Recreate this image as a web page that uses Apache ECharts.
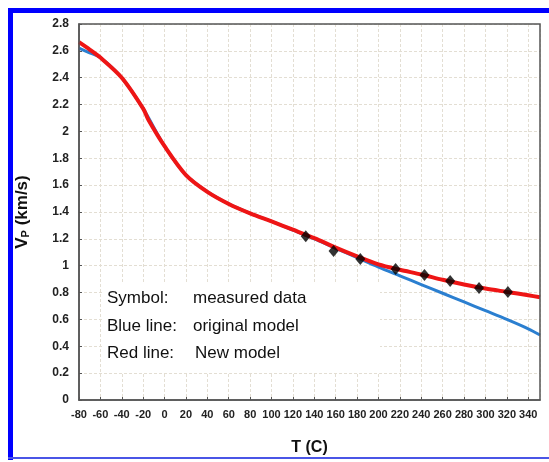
<!DOCTYPE html>
<html>
<head>
<meta charset="utf-8">
<script src="https://cdn.jsdelivr.net/npm/echarts@6/dist/echarts.min.js"></script>
<style>
  html, body { margin: 0; padding: 0; background: #fff; }
  #main { width: 549px; height: 462px; }
</style>
</head>
<body>
<div id="main"></div>
<script>
// temperatures (C) and velocities (km/s)
const redT = [-80, -70, -60, -40, -20, -15, 0, 20, 40, 60, 80, 100, 120, 140, 160, 180, 200, 220, 240, 260, 280, 300, 320, 340, 351];
const redV = [2.665, 2.61, 2.55, 2.40, 2.17, 2.085, 1.89, 1.675, 1.55, 1.46, 1.39, 1.33, 1.268, 1.205, 1.135, 1.07, 1.01, 0.97, 0.935, 0.895, 0.86, 0.83, 0.805, 0.78, 0.765];
const blueT = [-80, -70, -60, -40, -20, 0, 20, 40, 60, 80, 100, 120, 140, 160, 180, 200, 220, 240, 260, 280, 300, 320, 340, 351];
const blueV = [2.62, 2.585, 2.55, 2.40, 2.17, 1.89, 1.675, 1.55, 1.46, 1.39, 1.33, 1.265, 1.2, 1.13, 1.06, 0.99, 0.925, 0.86, 0.795, 0.73, 0.665, 0.6, 0.53, 0.484];
const measT = [132, 158, 183, 216, 243, 267, 294, 321];
const measV = [1.22, 1.11, 1.05, 0.975, 0.93, 0.886, 0.834, 0.804];
const legendLines = [
  ['Symbol:', 'measured data'],
  ['Blue line:', 'original model'],
  ['Red line:', 'New model']
];

function pairs(xs, ys) {
  let out = [];
  for (let i = 0; i < xs.length; i++) {
    out.push([xs[i], ys[i]]);
  }
  return out;
}

const chart = echarts.init(document.getElementById('main'));

const narrow = 'Liberation Sans Narrow, Arial Narrow, Liberation Sans, sans-serif';
const sans = 'Liberation Sans, Arial, sans-serif';

let legendGraphics = [
  { type: 'rect', z: 50, shape: { x: 103, y: 283, width: 277, height: 90 }, style: { fill: '#fff' } }
];
for (let i = 0; i < legendLines.length; i++) {
  legendGraphics.push({
    type: 'text', z: 51, left: 107, top: 290 + i * 27.5,
    style: { text: legendLines[i][0], font: '17px ' + sans, fill: '#111' }
  });
  legendGraphics.push({
    type: 'text', z: 51, left: 193 + (i === 2 ? 2 : 0), top: 290 + i * 27.5,
    style: { text: legendLines[i][1], font: '17px ' + sans, fill: '#111' }
  });
}

const frame = [
  { type: 'rect', z: 60, shape: { x: 8, y: 8, width: 541, height: 5 }, style: { fill: '#0000ff' } },
  { type: 'rect', z: 60, shape: { x: 8, y: 8, width: 5, height: 452 }, style: { fill: '#0000ff' } },
  { type: 'rect', z: 60, shape: { x: 8, y: 457, width: 541, height: 2 }, style: { fill: '#4a55e6' } }
];

const gridLine = { show: true, lineStyle: { color: '#e3ded3', type: [3, 2], width: 1 } };

chart.setOption({
  backgroundColor: '#fff',
  animation: false,
  grid: { left: 79, right: 9, top: 24, bottom: 62 },
  xAxis: {
    type: 'value',
    min: -80,
    max: 351,
    interval: 20,
    name: 'T (C)',
    nameLocation: 'middle',
    nameGap: 40,
    nameTextStyle: { fontFamily: sans, fontWeight: 'bold', fontSize: 16, color: '#111' },
    axisLine: { show: true, onZero: false, lineStyle: { color: '#555', width: 1.5 } },
    axisTick: { show: true, inside: true, length: 3, lineStyle: { color: '#555' } },
    axisLabel: { margin: 9, showMaxLabel: false, fontFamily: narrow, fontWeight: 'bold', fontSize: 11, color: '#222' },
    splitLine: gridLine
  },
  yAxis: {
    type: 'value',
    min: 0,
    max: 2.8,
    interval: 0.2,
    name: '{a|V}{b|P}{a| (km/s)}',
    nameLocation: 'middle',
    nameGap: 48,
    nameRotate: 90,
    nameTextStyle: {
      rich: {
        a: { fontFamily: sans, fontWeight: 'bold', fontSize: 17, color: '#111' },
        b: { fontFamily: sans, fontWeight: 'bold', fontSize: 11, color: '#111', verticalAlign: 'bottom', padding: [6, 0, 0, 0] }
      }
    },
    axisLine: { show: true, onZero: false, lineStyle: { color: '#555', width: 1.5 } },
    axisTick: { show: true, inside: true, length: 3, lineStyle: { color: '#555' } },
    axisLabel: {
      margin: 10, fontFamily: narrow, fontWeight: 'bold', fontSize: 12, color: '#222',
      formatter: function (v) { return String(Math.round(v * 10) / 10); }
    },
    splitLine: gridLine
  },
  graphic: [
    // right and top edges of the plot box
    { type: 'rect', z: 40, shape: { x: 79, y: 24, width: 461, height: 376 }, style: { fill: 'none', stroke: '#555', lineWidth: 1.5 } }
  ].concat(legendGraphics).concat(frame),
  series: [
    {
      name: 'original model',
      type: 'line',
      data: pairs(blueT, blueV),
      showSymbol: false,
      smooth: 0.3,
      lineStyle: { color: '#2b7fd0', width: 3 },
      z: 2
    },
    {
      name: 'New model',
      type: 'line',
      data: pairs(redT, redV),
      showSymbol: false,
      smooth: 0.3,
      lineStyle: { color: '#ee1515', width: 4 },
      z: 3
    },
    {
      name: 'measured data',
      type: 'scatter',
      data: pairs(measT, measV),
      symbol: 'diamond',
      symbolSize: [10, 12],
      itemStyle: { color: '#000' },
      z: 4
    }
  ]
});
</script>
</body>
</html>
